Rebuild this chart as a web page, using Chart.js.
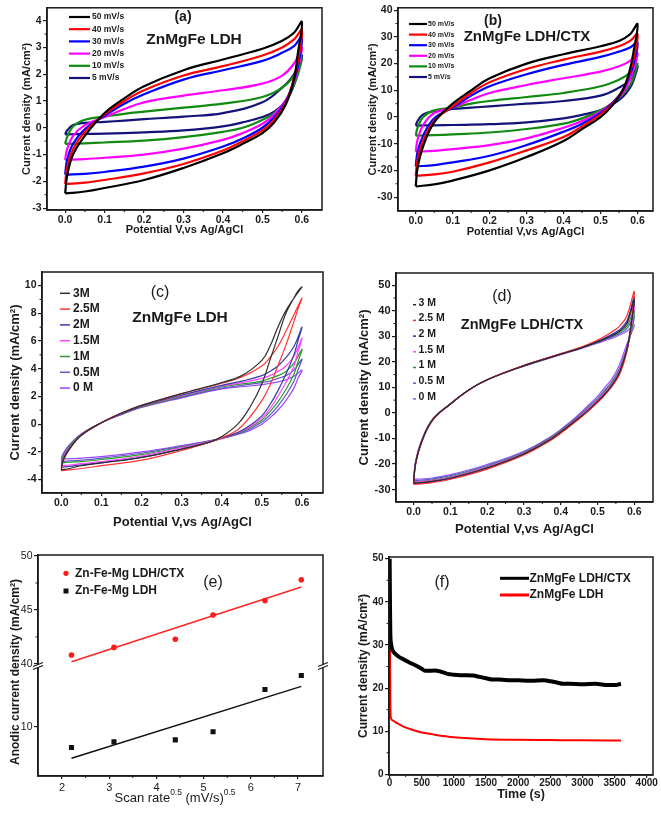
<!DOCTYPE html>
<html>
<head>
<meta charset="utf-8">
<title>ZnMgFe LDH electrochemistry</title>
<script src="https://cdn.jsdelivr.net/npm/chart.js@4.4.1/dist/chart.umd.min.js"></script>
<style>
  html, body { margin: 0; padding: 0; background: #fff; }
  #page { position: relative; width: 661px; height: 816px; overflow: hidden; }
  #page canvas { position: absolute; }
</style>
</head>
<body>
<div id="page">
  <canvas id="chartA" width="330" height="245" style="left:0;top:0"></canvas>
  <canvas id="chartB" width="331" height="245" style="left:330px;top:0"></canvas>
  <canvas id="chartC" width="330" height="270" style="left:0;top:262px"></canvas>
  <canvas id="chartD" width="331" height="276" style="left:330px;top:262px"></canvas>
  <canvas id="chartE" width="330" height="276" style="left:0;top:540px"></canvas>
  <canvas id="chartF" width="331" height="276" style="left:330px;top:540px"></canvas>
</div>
<script>
// ---- (a) / (b): CV loops at several scan rates (forward sweep then reverse) ----
const sweepAB = [0, 0.005, 0.02, 0.05, 0.1, 0.15, 0.2, 0.3, 0.4, 0.5, 0.55, 0.58, 0.6,
                 0.59, 0.58, 0.56, 0.53, 0.5, 0.45, 0.4, 0.3, 0.2, 0.1, 0.05, 0];
const scanLabels = ['50 mV/s', '40 mV/s', '30 mV/s', '20 mV/s', '10 mV/s', '5 mV/s'];

const a50 = [-2.45, -1.8, -1.0, -0.3, 0.55, 1.1, 1.55, 2.15, 2.55, 2.95, 3.25, 3.55, 3.95,
             2.8, 1.8, 0.9, 0.2, -0.2, -0.6, -0.95, -1.5, -1.95, -2.25, -2.38, -2.45];
const a40 = [-2.1, -1.5, -0.8, -0.15, 0.5, 1.0, 1.4, 1.95, 2.3, 2.7, 3.0, 3.3, 3.65,
             2.5, 1.85, 0.95, 0.3, -0.1, -0.5, -0.85, -1.35, -1.7, -1.95, -2.05, -2.1];
const a30 = [-1.75, -1.2, -0.6, -0.05, 0.45, 0.9, 1.25, 1.8, 2.15, 2.5, 2.8, 3.05, 3.4,
             2.3, 1.8, 1.0, 0.4, 0.0, -0.4, -0.7, -1.15, -1.45, -1.65, -1.72, -1.75];
const a20 = [-1.2, -0.8, -0.3, 0.1, 0.4, 0.7, 0.95, 1.2, 1.4, 1.65, 1.95, 2.4, 3.0,
             2.2, 1.7, 1.05, 0.5, 0.15, -0.2, -0.45, -0.78, -1.0, -1.12, -1.17, -1.2];
const a10 = [-0.6, -0.35, 0.05, 0.3, 0.42, 0.52, 0.6, 0.75, 0.9, 1.15, 1.5, 1.95, 2.6,
             2.0, 1.6, 1.0, 0.55, 0.3, 0.0, -0.15, -0.35, -0.48, -0.55, -0.58, -0.6];
const a5 = [-0.25, -0.1, 0.1, 0.18, 0.22, 0.27, 0.32, 0.42, 0.55, 0.95, 1.5, 2.0, 2.7,
            2.1, 1.6, 1.0, 0.6, 0.4, 0.2, 0.05, -0.1, -0.17, -0.22, -0.23, -0.25];

const b50 = [-26, -19, -11, -2, 5, 10, 14.5, 20, 23.5, 26.5, 28.5, 31, 34.8,
             25, 18, 10, 4, 0, -4.5, -9, -15, -20, -23.8, -25.2, -26];
const b40 = [-22, -16, -9, -1.5, 4, 9, 13, 18, 21.5, 24.5, 26.5, 28.5, 31,
             22, 17, 10, 4.5, 1, -3.5, -7.5, -12.5, -17, -20.5, -21.5, -22];
const b30 = [-18.5, -13, -7, -0.5, 3.5, 8, 11.5, 16, 19.5, 22.5, 24.5, 26, 28,
             20, 16, 10, 5, 1.5, -2.5, -5.5, -10.5, -14.5, -17, -18, -18.5];
const b20 = [-13, -8.5, -3, 1.5, 3.5, 6.5, 9, 12, 14.5, 17, 19, 21, 24,
             18, 14, 9, 5, 2, -1.5, -4, -8, -10.5, -12, -12.7, -13];
const b10 = [-7, -4, 0, 2.5, 3.5, 5, 6, 7.5, 9, 11.5, 14, 16.5, 20,
             15, 12, 8.5, 5, 2.5, -0.5, -2.5, -4.5, -5.8, -6.5, -6.8, -7];
const b5 = [-3.2, -1.5, 1, 2.2, 3, 3.5, 4, 5, 6, 8, 11, 14, 19,
            14, 11, 7.5, 4.5, 2.5, 0.8, -0.5, -2, -2.7, -3, -3.1, -3.2];

// ---- (c) / (d): CV loops at several electrolyte concentrations ----
const sweepCD = [0, 0.005, 0.02, 0.05, 0.1, 0.15, 0.2, 0.3, 0.4, 0.45, 0.5, 0.52, 0.54, 0.56, 0.58, 0.6,
                 0.59, 0.58, 0.56, 0.54, 0.52, 0.5, 0.47, 0.44, 0.4, 0.37, 0.3, 0.2, 0.1, 0.05, 0.02, 0];
const concLabelsC = ['3M', '2.5M', '2M', '1.5M', '1M', '0.5M', '0 M'];
const concLabelsD = ['3 M', '2.5 M', '2 M', '1.5 M', '1 M', '0.5 M', '0 M'];

const c3 = [-3.3, -2.6, -1.8, -0.8, 0.1, 0.8, 1.35, 2.2, 3.0, 3.5, 4.6, 5.6, 7.0, 8.2, 9.1, 9.9,
            9.6, 9.1, 8.0, 6.3, 4.6, 2.9, 1.2, 0.0, -0.9, -1.3, -1.8, -2.4, -2.8, -3.0, -3.2, -3.3];
const c25 = [-3.35, -2.65, -1.85, -0.8, 0.1, 0.8, 1.35, 2.2, 2.95, 3.4, 4.2, 4.8, 5.6, 6.7, 7.9, 9.1,
             8.3, 7.4, 5.7, 4.2, 2.8, 1.7, 0.5, -0.4, -1.0, -1.3, -1.9, -2.6, -3.0, -3.2, -3.3, -3.35];
const c2 = [-3.1, -2.5, -1.75, -0.8, 0.1, 0.75, 1.3, 2.1, 2.8, 3.1, 3.5, 3.8, 4.2, 4.8, 5.6, 7.0,
            6.0, 5.0, 3.6, 2.4, 1.4, 0.6, -0.1, -0.6, -1.0, -1.3, -1.8, -2.4, -2.8, -2.95, -3.05, -3.1];
const c15 = [-3.0, -2.4, -1.7, -0.8, 0.1, 0.75, 1.3, 2.05, 2.75, 3.0, 3.3, 3.5, 3.8, 4.2, 4.9, 6.2,
             5.2, 4.2, 3.0, 2.0, 1.1, 0.45, -0.2, -0.6, -1.0, -1.25, -1.7, -2.3, -2.7, -2.85, -2.95, -3.0];
const c1 = [-2.8, -2.3, -1.6, -0.75, 0.1, 0.75, 1.25, 2.0, 2.7, 2.9, 3.1, 3.3, 3.5, 3.8, 4.4, 5.4,
            4.5, 3.6, 2.5, 1.6, 0.9, 0.3, -0.25, -0.65, -1.0, -1.25, -1.65, -2.2, -2.55, -2.7, -2.75, -2.8];
const c05 = [-2.7, -2.2, -1.55, -0.75, 0.1, 0.7, 1.25, 1.95, 2.6, 2.8, 3.0, 3.1, 3.3, 3.5, 3.9, 4.7,
             3.9, 3.1, 2.1, 1.3, 0.65, 0.15, -0.35, -0.7, -1.0, -1.2, -1.6, -2.1, -2.45, -2.6, -2.65, -2.7];
const c0 = [-2.5, -2.1, -1.5, -0.7, 0.1, 0.7, 1.2, 1.9, 2.55, 2.7, 2.85, 2.95, 3.05, 3.2, 3.45, 3.9,
            3.3, 2.6, 1.7, 1.0, 0.45, 0.0, -0.45, -0.75, -1.05, -1.2, -1.55, -2.0, -2.35, -2.45, -2.5, -2.5];

const d3 = [-27.5, -20, -12, -3, 3.5, 9, 13, 18.5, 23, 25.2, 27.8, 29, 30.3, 32, 35, 44.5,
            33, 25, 16, 11, 7.5, 4.5, 0.5, -3, -7.5, -10.5, -16, -21.5, -25.5, -26.8, -27.3, -27.5];
const d25 = [-28, -20.5, -12.3, -3.2, 3.5, 9, 13, 18.6, 23.2, 25.5, 28.5, 30, 31.8, 34, 38, 47.5,
             33, 24, 15, 10.5, 7, 4, 0, -3.5, -8, -11, -16.5, -22, -26, -27.3, -27.8, -28];
const d2 = [-27.6, -20.2, -12.1, -3.1, 3.5, 9, 13, 18.5, 23.1, 25.3, 28, 29.3, 30.8, 32.6, 36, 45.5,
            33.5, 24.5, 15.5, 10.8, 7.2, 4.2, 0.3, -3.2, -7.7, -10.7, -16.2, -21.7, -25.7, -27, -27.4, -27.6];
const d15 = [-27, -19.8, -11.9, -3, 3.5, 9, 13, 18.5, 23, 25.3, 28, 29.3, 30.5, 32, 35, 42.5,
             32, 25, 16.5, 11.5, 8, 5, 1, -2.7, -7.3, -10.3, -15.8, -21.2, -25.2, -26.5, -26.9, -27];
const d1 = [-27, -19.7, -11.8, -2.9, 3.5, 9, 13, 18.4, 23, 25.2, 27.8, 29, 30.2, 31.5, 34, 40,
            31, 25, 17, 12, 8.5, 5.3, 1.3, -2.5, -7, -10, -15.6, -21, -25, -26.3, -26.8, -27];
const d05 = [-26.5, -19.5, -11.6, -2.8, 3.6, 9, 13, 18.4, 22.9, 25.1, 27.6, 28.7, 29.8, 31, 33, 38,
             30.5, 25.5, 17.5, 12.5, 9, 5.7, 1.6, -2.2, -6.8, -9.8, -15.3, -20.6, -24.6, -25.9, -26.3, -26.5];
const d0 = [-26, -19.2, -11.4, -2.7, 3.6, 9, 13, 18.3, 22.8, 25, 27.3, 28.3, 29.3, 30.5, 32, 34.5,
            30.5, 27, 19, 13.5, 10, 6.5, 2.3, -1.8, -6.5, -9.5, -15, -20.2, -24.2, -25.5, -25.9, -26];

// ---- (e): anodic current density vs square root of scan rate ----
const sqrtScanRate = [2.2, 3.1, 4.4, 5.2, 6.3, 7.07];
const anodicCtx = [40.83, 41.53, 42.29, 44.53, 45.87, 47.8];
const anodicLdh = [9.16, 9.39, 9.47, 9.8, 11.52, 12.09];
const fitX = [2.2, 7.07];
const fitCtx = [40.2, 47.13];
const fitLdh = [8.72, 11.65];

// ---- (f): chronoamperometry ----
const ctxTime = [0, 5, 10, 20, 40, 70, 100, 150, 200, 300, 400, 500, 550, 600, 700, 800, 900, 1000,
                 1100, 1200, 1300, 1400, 1500, 1600, 1700, 1800, 2000, 2200, 2400, 2500, 2600, 2700,
                 2800, 3000, 3200, 3400, 3500, 3600];
const ctxDensity = [50, 40, 33, 30.5, 29, 28.2, 27.8, 27.2, 26.8, 26, 25.3, 24.5, 24, 24, 24.1, 23.8, 23.3, 23.1,
                    23, 23, 22.9, 22.6, 22.3, 22, 22, 21.9, 21.8, 21.7, 21.8, 21.6, 21.3, 21,
                    21, 20.9, 21, 20.7, 20.7, 21];
const ldhTime = [0, 5, 10, 20, 50, 100, 200, 300, 400, 500, 700, 1000, 1300, 1500, 2000, 2500, 3000, 3600];
const ldhDensity = [45, 30, 18, 13, 12.5, 12, 11.2, 10.6, 10.1, 9.7, 9.2, 8.6, 8.3, 8.15, 8.0, 7.95, 7.9, 7.85];

// ---- styling ----
const INK = '#1a1a1a';
const FONT = "'Liberation Sans', Arial, sans-serif";
const colorsAB = ['#000000', '#ff0000', '#0000ff', '#ff00ff', '#118a11', '#12127a'];
const colorsC = ['#303030', '#ff3333', '#3a3aa8', '#ff44ff', '#2e9a2e', '#5a5ab8', '#9a44ff'];
const colorsD = ['#2a2a2a', '#ff2a2a', '#2a2ab0', '#ff44ff', '#2a962a', '#5060c0', '#a050ff'];

const points = (xs, ys) => xs.map((x, i) => ({ x, y: ys[i] }));

function cvSets(sweep, labels, curves, colors, width) {
  return curves.map((c, i) => ({
    label: labels[i], data: points(sweep, c),
    borderColor: colors[i], backgroundColor: colors[i],
    borderWidth: width, showLine: true, pointRadius: 0, tension: 0.4
  }));
}

function fixedTicks(values) {
  return scale => { scale.ticks = values.map(v => ({ value: v })); };
}

function axis(o) {
  const horiz = o.horiz;
  return {
    type: 'linear', position: horiz ? 'bottom' : 'left', min: o.min, max: o.max,
    stack: o.stack, stackWeight: o.stackWeight,
    afterBuildTicks: fixedTicks(o.ticks),
    afterFit: s => { if (horiz) s.height = o.size; else s.width = o.size; },
    grid: { drawOnChartArea: false, drawTicks: true, tickLength: horiz ? 3 : 4, color: INK, lineWidth: 1.2 },
    border: { color: INK, width: 1.5 },
    ticks: {
      color: INK, autoSkip: false, maxRotation: 0,
      padding: o.tickPad !== undefined ? o.tickPad : (horiz ? 0.5 : 1.5),
      font: { family: FONT, size: o.tickSize || 10.5, weight: o.tickWeight || 'bold' },
      callback: o.fmt || (v => String(v))
    },
    title: o.title ? {
      display: true, text: o.title, color: INK,
      font: { family: FONT, size: o.titleSize, weight: 'bold' },
      padding: horiz ? { top: 0, bottom: o.titlePad } : { top: o.titlePad, bottom: 0 }
    } : { display: false }
  };
}

const oneDecimal = v => v.toFixed(1);

// frame, minor ticks, labels and hand-placed legends
function drawText(ctx, t) {
  ctx.save();
  ctx.fillStyle = t.color || INK;
  ctx.textBaseline = 'middle';
  ctx.translate(t.x, t.y);
  if (t.rotate) ctx.rotate(-Math.PI / 2);
  const parts = t.parts || [{ text: t.text }];
  const fontOf = p => `${t.weight || 'normal'} ${p.sup ? t.size * 0.65 : t.size}px ${FONT}`;
  let total = 0;
  parts.forEach(p => { ctx.font = fontOf(p); total += ctx.measureText(p.text).width; });
  let x = t.align === 'left' ? 0 : -total / 2;
  ctx.textAlign = 'left';
  parts.forEach(p => {
    ctx.font = fontOf(p);
    ctx.fillText(p.text, x, p.sup ? -t.size * 0.4 : 0);
    x += ctx.measureText(p.text).width;
  });
  ctx.restore();
}

const decor = {
  id: 'decor',
  afterDraw(chart, args, o) {
    const { ctx, chartArea: a } = chart;
    ctx.save();
    ctx.strokeStyle = INK;
    ctx.lineWidth = 1;
    Object.values(chart.scales).forEach(s => {
      const t = s.ticks.map(k => k.value);
      for (let i = 0; i < t.length - 1; i++) {
        const p = s.getPixelForValue((t[i] + t[i + 1]) / 2);
        ctx.beginPath();
        if (s.isHorizontal()) { ctx.moveTo(p, a.bottom); ctx.lineTo(p, a.bottom + 2); }
        else { ctx.moveTo(a.left - 2.5, p); ctx.lineTo(a.left, p); }
        ctx.stroke();
      }
    });
    ctx.lineWidth = 1.5;
    ctx.strokeRect(a.left, a.top, a.right - a.left, a.bottom - a.top);

    if (o.breakAt) {
      const y = chart.scales[o.breakAt].bottom;
      [a.left, a.right].forEach(x => {
        ctx.fillStyle = '#fff';
        ctx.fillRect(x - 3, y - 1, 6, 3);
        ctx.lineWidth = 1.2;
        ctx.beginPath();
        ctx.moveTo(x - 5, y + 1); ctx.lineTo(x + 5, y - 3);
        ctx.moveTo(x - 5, y + 4); ctx.lineTo(x + 5, y);
        ctx.stroke();
      });
    }

    (o.texts || []).forEach(t => drawText(ctx, t));

    const L = o.legend;
    if (L) {
      let row = 0;
      chart.data.datasets.forEach(ds => {
        if (ds.inLegend === false) return;
        const y = L.y + row * L.dy;
        ctx.strokeStyle = ds.borderColor;
        ctx.fillStyle = ds.backgroundColor;
        if (L.kind === 'point') {
          ctx.beginPath();
          if (ds.pointStyle === 'rect') ctx.rect(L.x - 2.5, y - 2.5, 5, 5);
          else ctx.arc(L.x, y, 2.6, 0, Math.PI * 2);
          ctx.fill();
        } else {
          ctx.lineWidth = L.lineWidth || ds.borderWidth;
          ctx.beginPath();
          ctx.moveTo(L.x, y + (L.lineDy || 0));
          ctx.lineTo(L.x + L.lineLen, y + (L.lineDy || 0));
          ctx.stroke();
        }
        ctx.fillStyle = INK;
        ctx.font = L.font;
        ctx.textAlign = 'left';
        ctx.textBaseline = 'middle';
        ctx.fillText(ds.label, L.textX, y);
        row++;
      });
    }
    ctx.restore();
  }
};

function makeChart(id, cfg) {
  return new Chart(document.getElementById(id), {
    type: 'scatter',
    data: { datasets: cfg.datasets },
    options: {
      responsive: false,
      animation: false,
      layout: { padding: cfg.padding },
      scales: cfg.scales,
      plugins: { legend: { display: false }, tooltip: { enabled: false }, decor: cfg.decor }
    },
    plugins: [decor]
  });
}

const potentialTicks = [0, 0.1, 0.2, 0.3, 0.4, 0.5, 0.6];
const cvTitleX = 'Potential V,vs Ag/AgCl';
const cvTitleY = 'Current density (mA/cm\u00B2)';

// (a)
makeChart('chartA', {
  datasets: cvSets(sweepAB, scanLabels, [a50, a40, a30, a20, a10, a5], colorsAB, 2.2),
  padding: { left: 0, top: 4, right: 8, bottom: 0 },
  scales: {
    x: axis({ horiz: true, min: -0.046, max: 0.651, ticks: potentialTicks, fmt: oneDecimal, size: 35,
              title: cvTitleX, titleSize: 11, titlePad: 8 }),
    y: axis({ min: -3.07, max: 4.48, ticks: [-3, -2, -1, 0, 1, 2, 3, 4], size: 47,
              title: cvTitleY, titleSize: 11, titlePad: 20 })
  },
  decor: {
    texts: [
      { text: '(a)', x: 183, y: 17, size: 14, weight: 'bold' },
      { text: 'ZnMgFe LDH', x: 194, y: 40, size: 15.5, weight: 'bold' }
    ],
    legend: { x: 69, y: 17, dy: 12.2, lineLen: 21, lineWidth: 2.2, textX: 92, font: `bold 8.5px ${FONT}` }
  }
});

// (b)
makeChart('chartB', {
  datasets: cvSets(sweepAB, scanLabels, [b50, b40, b30, b20, b10, b5], colorsAB, 2.2),
  padding: { left: 0, top: 6, right: 8, bottom: 0 },
  scales: {
    x: axis({ horiz: true, min: -0.048, max: 0.642, ticks: potentialTicks, fmt: oneDecimal, size: 34,
              title: cvTitleX, titleSize: 11, titlePad: 6.5 }),
    y: axis({ min: -35.2, max: 40.9, ticks: [-30, -20, -10, 0, 10, 20, 30, 40], size: 68,
              title: cvTitleY, titleSize: 11, titlePad: 36 })
  },
  decor: {
    texts: [
      { text: '(b)', x: 163, y: 21, size: 14, weight: 'bold' },
      { text: 'ZnMgFe LDH/CTX', x: 197, y: 37, size: 15, weight: 'bold' }
    ],
    legend: { x: 79, y: 24, dy: 10.6, lineLen: 18, lineWidth: 2.2, textX: 98, font: `bold 7px ${FONT}` }
  }
});

// (c)
makeChart('chartC', {
  datasets: cvSets(sweepCD, concLabelsC, [c3, c25, c2, c15, c1, c05, c0], colorsC, 1.2),
  padding: { left: 0, top: 10, right: 7, bottom: 0 },
  scales: {
    x: axis({ horiz: true, min: -0.048, max: 0.6525, ticks: potentialTicks, fmt: oneDecimal, size: 39,
              title: cvTitleX, titleSize: 13, titlePad: 1.5 }),
    y: axis({ min: -4.97, max: 10.98, ticks: [-4, -2, 0, 2, 4, 6, 8, 10], size: 42,
              title: cvTitleY, titleSize: 13, titlePad: 8 })
  },
  decor: {
    texts: [
      { text: '(c)', x: 160, y: 31, size: 16 },
      { text: 'ZnMgFe LDH', x: 180, y: 56, size: 15.5, weight: 'bold' }
    ],
    legend: { x: 60, y: 31.3, dy: 15.8, lineLen: 10, lineWidth: 1.5, textX: 73, font: `bold 12px ${FONT}` }
  }
});

// (d)
makeChart('chartD', {
  datasets: cvSets(sweepCD, concLabelsD, [d3, d25, d2, d15, d1, d05, d0], colorsD, 1.2),
  padding: { left: 0, top: 11, right: 8, bottom: 0 },
  scales: {
    x: axis({ horiz: true, min: -0.048, max: 0.651, ticks: potentialTicks, fmt: oneDecimal, size: 36,
              title: cvTitleX, titleSize: 13, titlePad: 1 }),
    y: axis({ min: -34.9, max: 54.8, ticks: [-30, -20, -10, 0, 10, 20, 30, 40, 50], size: 66,
              tickSize: 11, title: cvTitleY, titleSize: 13, titlePad: 27 })
  },
  decor: {
    texts: [
      { text: '(d)', x: 172, y: 35, size: 16 },
      { text: 'ZnMgFe LDH/CTX', x: 192, y: 63, size: 14.5, weight: 'bold' }
    ],
    legend: { x: 83, y: 40.7, dy: 15.7, lineLen: 3, lineWidth: 1.5, lineDy: 2, textX: 88.5, font: `bold 10.5px ${FONT}` }
  }
});

// (e)
makeChart('chartE', {
  datasets: [
    { label: 'Zn-Fe-Mg LDH/CTX', data: points(sqrtScanRate, anodicCtx), yAxisID: 'yTop',
      pointStyle: 'circle', pointRadius: 2.8, backgroundColor: '#ff1a1a', borderColor: '#ff1a1a', borderWidth: 0 },
    { label: 'Zn-Fe-Mg LDH', data: points(sqrtScanRate, anodicLdh), yAxisID: 'yBot',
      pointStyle: 'rect', pointRadius: 3.6, backgroundColor: '#111', borderColor: '#111', borderWidth: 0 },
    { label: 'fit', inLegend: false, data: points(fitX, fitCtx), yAxisID: 'yTop', showLine: true,
      pointRadius: 0, borderColor: '#ff2424', borderWidth: 1.5 },
    { label: 'fit', inLegend: false, data: points(fitX, fitLdh), yAxisID: 'yBot', showLine: true,
      pointRadius: 0, borderColor: '#111', borderWidth: 1.5 }
  ],
  padding: { left: 0, top: 15, right: 7, bottom: 0 },
  scales: {
    x: axis({ horiz: true, min: 1.49, max: 7.53, ticks: [2, 3, 4, 5, 6, 7], size: 40,
              tickSize: 11, tickWeight: 'normal', tickPad: 2 }),
    yBot: axis({ min: 8, max: 12.5, ticks: [10], size: 38, stack: 'e', stackWeight: 1,
                 tickSize: 10.5, tickWeight: 'normal' }),
    yTop: axis({ min: 39.85, max: 50.1, ticks: [40, 45, 50], size: 38, stack: 'e', stackWeight: 1,
                 tickSize: 10.5, tickWeight: 'normal' })
  },
  decor: {
    breakAt: 'yTop',
    texts: [
      { text: '(e)', x: 213, y: 43, size: 16 },
      { text: 'Anodic current density (mA/cm\u00B2)', x: 16, y: 132, size: 12, weight: 'bold', rotate: true },
      { parts: [{ text: 'Scan rate' }, { text: '0.5', sup: true }, { text: ' (mV/s)' }, { text: '0.5', sup: true }],
        x: 175, y: 258, size: 13 }
    ],
    legend: { kind: 'point', x: 66, y: 33.3, dy: 17.7, textX: 75, font: `bold 12px ${FONT}` }
  }
});

// (f)
makeChart('chartF', {
  datasets: [
    { label: 'ZnMgFe LDH/CTX', data: points(ctxTime, ctxDensity), showLine: true, pointRadius: 0,
      borderColor: '#000', backgroundColor: '#000', borderWidth: 4, cubicInterpolationMode: 'monotone' },
    { label: 'ZnMgFe LDH', data: points(ldhTime, ldhDensity), showLine: true, pointRadius: 0,
      borderColor: '#ff0000', backgroundColor: '#ff0000', borderWidth: 2, cubicInterpolationMode: 'monotone' }
  ],
  padding: { left: 0, top: 17, right: 8, bottom: 0 },
  scales: {
    x: axis({ horiz: true, min: -10, max: 4098, ticks: [0, 500, 1000, 1500, 2000, 2500, 3000, 3500, 4000],
              size: 41, tickSize: 10, tickPad: -1, title: 'Time (s)', titleSize: 12.5, titlePad: 13.5 }),
    y: axis({ min: -0.15, max: 50.4, ticks: [0, 10, 20, 30, 40, 50], size: 59, tickSize: 10,
              title: cvTitleY, titleSize: 12, titlePad: 26 })
  },
  decor: {
    texts: [{ text: '(f)', x: 112, y: 43, size: 16 }],
    legend: { x: 170, y: 38.3, dy: 16.7, lineLen: 29, lineWidth: 3, textX: 199.5, font: `bold 12px ${FONT}` }
  }
});
</script>
</body>
</html>
